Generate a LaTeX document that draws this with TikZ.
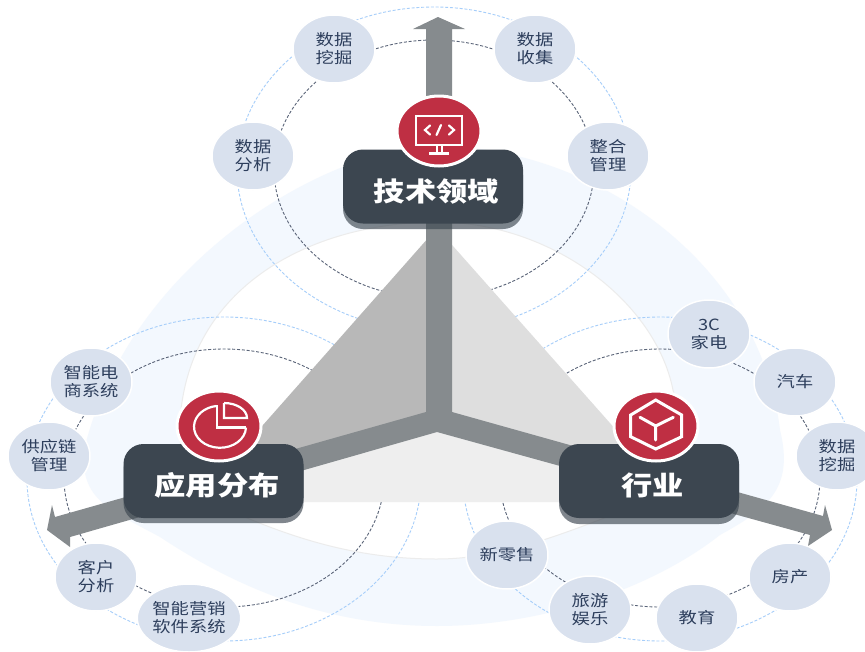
\documentclass[tikz,border=0pt]{standalone}
\usepackage{fontspec}
\usetikzlibrary{shapes.geometric}
\newfontfamily\cjkfont[FakeStretch=1.18]{Noto Sans CJK SC}
\definecolor{band}{HTML}{F3F8FE}
\definecolor{bandline}{HTML}{ECECEC}
\definecolor{dashblue}{HTML}{A6CEFA}
\definecolor{dashdark}{HTML}{5A6478}
\definecolor{faceL}{HTML}{B8B8B8}
\definecolor{faceR}{HTML}{DEDEDE}
\definecolor{faceB}{HTML}{EEEEEE}
\definecolor{barcol}{HTML}{868B8E}
\definecolor{boxcol}{HTML}{3C4650}
\definecolor{redcol}{HTML}{BF2F43}
\definecolor{leafcol}{HTML}{D9E1EE}
\definecolor{leaftext}{HTML}{2D3E5C}
\newcommand{\hubtext}[1]{\smash{\raisebox{-14.5pt}{\hspace{7pt}#1}}}
\tikzset{
  orbitblue/.style={draw=dashblue,line width=0.9pt,dash pattern=on 3pt off 1.8pt},
  orbitdark/.style={draw=dashdark,line width=0.9pt,dash pattern=on 3pt off 1.8pt},
  leaf/.style={ellipse,fill=leafcol,draw=white,line width=1.5pt,minimum width=82pt,minimum height=68pt,inner sep=0pt,
    align=center,text=leaftext,font=\cjkfont\fontsize{15.5}{18}\selectfont},
  hub/.style={rounded corners=20pt,fill=boxcol,minimum width=180pt,minimum height=74pt,inner sep=0pt,
    text=white,font=\cjkfont\bfseries\fontsize{26.5}{30}\selectfont},
  hubshadow/.style={rounded corners=20pt,fill=boxcol,fill opacity=0.65,minimum width=180pt,minimum height=74pt,inner sep=0pt},
  badge/.style={ellipse,fill=redcol,draw=white,line width=3pt,minimum width=84pt,minimum height=70pt,inner sep=0pt},
  icon/.style={draw=white,line width=2.2pt,line join=miter}
}
\begin{document}
\begin{tikzpicture}[x=1pt,y=1pt,yscale=-1]
\useasboundingbox (0,0) rectangle (865,651);
\fill[white] (0,0) rectangle (865,651);
% background bands
\fill[band] (437,146) .. controls (330,146) and (130,260) .. (84,450)
  .. controls (80,500) and (110,510) .. (160,537)
  .. controls (240,590) and (330,626) .. (437,626)
  .. controls (540,626) and (650,590) .. (720,535)
  .. controls (765,510) and (795,490) .. (780,430)
  .. controls (760,260) and (590,146) .. (437,146) -- cycle;
\draw[bandline,line width=1pt,fill=white] (437,222) .. controls (320,222) and (190,280) .. (180,420)
  .. controls (176,480) and (210,505) .. (240,515)
  .. controls (310,545) and (370,559) .. (437,559)
  .. controls (500,559) and (560,535) .. (620,512)
  .. controls (665,495) and (690,450) .. (673,390)
  .. controls (655,300) and (550,222) .. (437,222) -- cycle;
% orbits
\draw[orbitblue] (434,169) ellipse [x radius=197,y radius=162];
\draw[orbitdark] (434,169) ellipse [x radius=160,y radius=129];
\draw[orbitblue] (224,479) ellipse [x radius=197,y radius=162];
\draw[orbitdark] (224,478) ellipse [x radius=160,y radius=129];
\draw[orbitblue] (660,479) ellipse [x radius=197,y radius=162];
\draw[orbitdark] (660,478) ellipse [x radius=160,y radius=129];
% pyramid
\coordinate (apex) at (437,228);
\coordinate (baseL) at (195,502);
\coordinate (baseR) at (680,502);
\coordinate (mid) at (437,425);
\fill[faceL] (apex) -- (baseL) -- (mid) -- cycle;
\fill[faceR] (apex) -- (baseR) -- (mid) -- cycle;
\fill[faceB] (baseL) -- (baseR) -- (mid) -- cycle;
% three-way arrow bars
\fill[barcol] (426,412) -- (426,29) -- (413,29) -- (438,17) -- (465,29) -- (452,29) -- (452,412)
  -- (823,516) -- (825,505) -- (832,530) -- (808,546) -- (810,535) -- (437,432)
  -- (70,537) -- (70,547) -- (47,530) -- (52,505) -- (55,517) -- cycle;
% leaves
\node[leaf] (a1) at (334,49) {数据\\挖掘};
\node[leaf] (a2) at (535,49) {数据\\收集};
\node[leaf] (a3) at (253,156) {数据\\分析};
\node[leaf] (a4) at (608,156) {整合\\管理};
\node[leaf] (b1) at (91,382) {智能电\\商系统};
\node[leaf] (b2) at (49,456) {供应链\\管理};
\node[leaf] (b3) at (96,577) {客户\\分析};
\node[leaf] (b4) at (189,618) {智能营销\\软件系统};
\node[leaf] (c1) at (709,334) {3C\\家电};
\node[leaf] (c2) at (795,382) {汽车};
\node[leaf] (c3) at (837,456) {数据\\挖掘};
\node[leaf] (c4) at (790,577) {房产};
\node[leaf] (c5) at (697,618) {教育};
\node[leaf] (c6) at (590,610) {旅游\\娱乐};
\node[leaf] (c7) at (507,555) {新零售};
% hubs
\node[hubshadow] (hubAs) at (433,192) {};
\node[hubshadow] (hubBs) at (213.5,486) {};
\node[hubshadow] (hubCs) at (649,487) {};
\node[hub] (hubA) at (433,186.5) {\hubtext{技术领域}};
\node[hub] (hubB) at (213.5,481) {\hubtext{应用分布}};
\node[hub] (hubC) at (649,481) {\hubtext{行业}};
% badges
\node[badge] (badgeA) at (439,131) {};
\node[badge] (badgeB) at (219,426) {};
\node[badge] (badgeC) at (656,426) {};
% monitor icon
\draw[icon] (416,116) rectangle (462,145);
\draw[icon] (437,145) -- (437,153) (442,145) -- (442,153) (429,153.5) -- (449,153.5);
\draw[icon,line cap=round] (430,125.5) -- (425,130) -- (430,134.5) (449,125.5) -- (454,130) -- (449,134.5) (441,125) -- (436.5,135);
% pie icon
\draw[icon] (246,427.5) -- (217,427.5) -- (217,405);
\draw[icon] (246,427.5) arc [start angle=2,end angle=262,x radius=26,y radius=21];
\draw[icon] (224,403) -- (224,418) -- (247,418) arc [start angle=0,end angle=-90,x radius=23,y radius=15];
% cube icon
\draw[icon,line width=3pt] (655.7,400) -- (681.7,415) -- (681.7,436.7) -- (655.7,449) -- (630.7,436.7) -- (630.7,415) -- cycle;
\draw[icon,line width=3pt,line cap=round] (640,417.3) -- (655.7,426) -- (673.3,417.3) (655.7,426) -- (655.7,440);
\end{tikzpicture}
\end{document}
